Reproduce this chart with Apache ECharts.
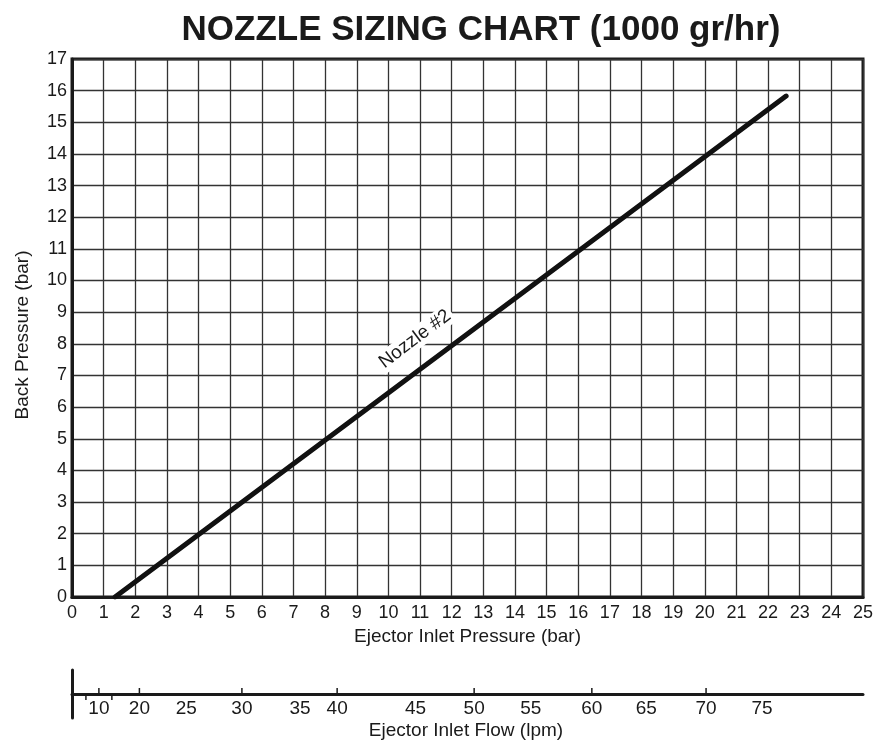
<!DOCTYPE html>
<html>
<head>
<meta charset="utf-8">
<script src="https://cdn.jsdelivr.net/npm/echarts@6/dist/echarts.min.js"></script>
<style>
  html, body { margin: 0; padding: 0; background: #fff; }
  #chart { width: 874px; height: 746px; }
</style>
</head>
<body>
<div id="chart"></div>
<script>
// nozzle #2 line (inlet pressure, back pressure)
const nozzleX = [1.36, 22.57];
const nozzleY = [0, 15.83];
const nozzleLabel = 'Nozzle #2';
const nozzleLabelAt = [10.84, 8.15];

// lower flow scale, placed in inlet-pressure units
const flowLabels = [10, 20, 25, 30, 35, 40, 45, 50, 55, 60, 65, 70, 75];
const flowLabelPos = [0.85, 2.13, 3.61, 5.37, 7.21, 8.38, 10.86, 12.71, 14.50, 16.43, 18.15, 20.04, 21.81];
const flowTickPos = [0.44, 0.85, 1.26, 2.13, 5.37, 8.38, 12.71, 16.43, 20.04];
const flowTickDir = [-1, 1, -1, 1, 1, 1, 1, 1, 1];

const font = 'Liberation Sans, Arial, Helvetica, sans-serif';
const ink = '#1a1a1a';

const chart = echarts.init(document.getElementById('chart'));

const nozzleData = nozzleX.map((x, i) => [x, nozzleY[i]]);
const flowLabelData = flowLabels.map((v, i) => [flowLabelPos[i], v]);
const flowTickData = flowTickPos.map((p, i) => [p, flowTickDir[i]]);

const option = {
    backgroundColor: '#fff',
    animation: false,
    title: [
        {
            text: 'NOZZLE SIZING CHART (1000 gr/hr)',
            left: 476,
            top: 8,
            textAlign: 'center',
            textStyle: { fontFamily: font, fontSize: 35, fontWeight: 'bold', color: ink }
        },
        {
            // name of the lower flow scale
            text: 'Ejector Inlet Flow (lpm)',
            left: 466,
            top: 721,
            textAlign: 'center',
            padding: 0,
            textStyle: { fontFamily: font, fontSize: 19, fontWeight: 'normal', color: ink }
        }
    ],
    grid: [
        { left: 72, top: 59, width: 791, height: 538, show: true, borderColor: ink, borderWidth: 3, backgroundColor: 'transparent', outerBoundsMode: 'none', containLabel: false },
        { left: 72, top: 670, width: 791, height: 48, outerBoundsMode: 'none', containLabel: false }
    ],
    xAxis: [
        {
            gridIndex: 0, type: 'value', min: 0, max: 25, interval: 1,
            name: 'Ejector Inlet Pressure (bar)', nameLocation: 'middle', nameGap: 28,
            nameTextStyle: { fontFamily: font, fontSize: 19, color: ink },
            axisLine: { show: true, lineStyle: { color: ink, width: 3 } },
            axisTick: { show: false },
            axisLabel: { fontFamily: font, fontSize: 18, color: ink, margin: 7 },
            splitLine: { show: true, lineStyle: { color: '#333', width: 1.3 } }
        },
        {
            gridIndex: 1, type: 'value', min: 0, max: 25,
            axisLine: { show: true, onZero: true, lineStyle: { color: ink, width: 3 } },
            axisTick: { show: false },
            axisLabel: { show: false },
            splitLine: { show: false }
        }
    ],
    yAxis: [
        {
            gridIndex: 0, type: 'value', min: 0, max: 17, interval: 1,
            name: 'Back Pressure (bar)', nameLocation: 'middle', nameGap: 40,
            nameTextStyle: { fontFamily: font, fontSize: 19, color: ink, padding: [0, 0, 0, -14] },
            axisLine: { show: true, lineStyle: { color: ink, width: 3 } },
            axisTick: { show: false },
            axisLabel: { fontFamily: font, fontSize: 18, color: ink, margin: 5 },
            splitLine: { show: true, lineStyle: { color: '#333', width: 1.3 } }
        },
        {
            gridIndex: 1, type: 'value', min: -1, max: 1,
            axisLine: { show: true, lineStyle: { color: ink, width: 3 } },
            axisTick: { show: false },
            axisLabel: { show: false },
            splitLine: { show: false }
        }
    ],
    series: [
        {
            type: 'line',
            xAxisIndex: 0, yAxisIndex: 0,
            data: nozzleData,
            showSymbol: false,
            lineStyle: { color: '#111', width: 5, cap: 'round' },
            z: 5
        },
        {
            type: 'custom',
            xAxisIndex: 0, yAxisIndex: 0,
            data: [nozzleLabelAt],
            renderItem: (params, api) => {
                const p = api.coord([api.value(0), api.value(1)]);
                return {
                    type: 'text',
                    x: p[0],
                    y: p[1],
                    rotation: 37 * Math.PI / 180,
                    style: {
                        text: nozzleLabel,
                        fontFamily: font,
                        fontSize: 19,
                        fill: ink,
                        align: 'center',
                        verticalAlign: 'middle',
                        backgroundColor: '#fff',
                        padding: [1, 3]
                    }
                };
            },
            z: 6
        },
        {
            type: 'custom',
            xAxisIndex: 1, yAxisIndex: 1,
            data: flowTickData,
            renderItem: (params, api) => {
                const p = api.coord([api.value(0), 0]);
                const dir = api.value(1);
                return {
                    type: 'line',
                    shape: { x1: p[0], y1: p[1], x2: p[0], y2: p[1] - dir * 6 },
                    style: { stroke: ink, lineWidth: 1.5 }
                };
            }
        },
        {
            type: 'custom',
            xAxisIndex: 1, yAxisIndex: 1,
            data: flowLabelData,
            renderItem: (params, api) => {
                const p = api.coord([api.value(0), 0]);
                return {
                    type: 'text',
                    x: p[0],
                    y: p[1] + 5,
                    style: {
                        text: String(api.value(1)),
                        fontFamily: font,
                        fontSize: 19,
                        fill: ink,
                        align: 'center',
                        verticalAlign: 'top'
                    }
                };
            }
        }
    ]
};

chart.setOption(option);
</script>
</body>
</html>
